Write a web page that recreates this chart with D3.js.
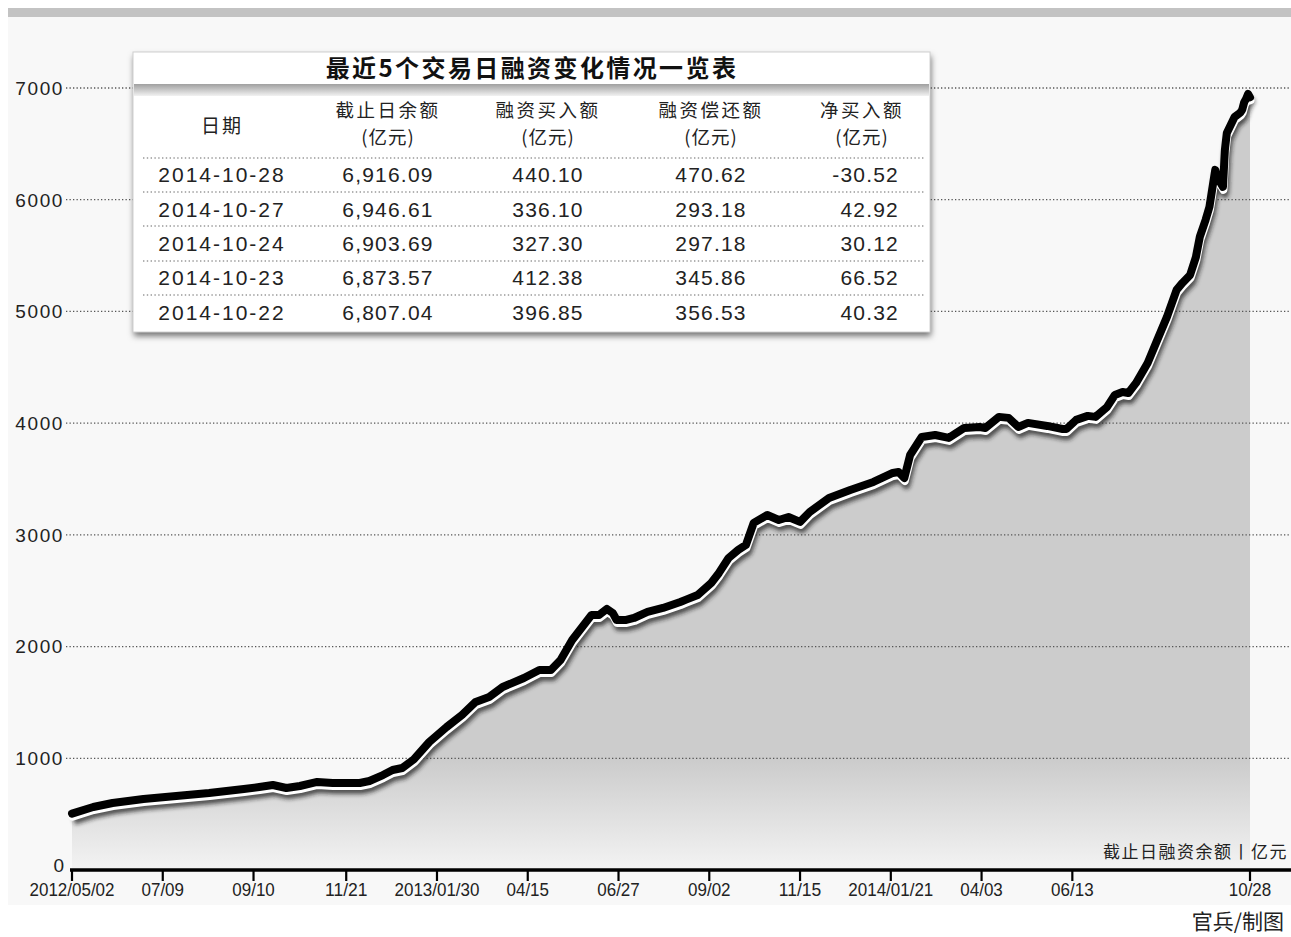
<!DOCTYPE html>
<html><head><meta charset="utf-8">
<script src="https://cdn.jsdelivr.net/npm/d3@7"></script>
<style>
html,body{margin:0;padding:0;background:#fff;}
svg{display:block;}
</style></head>
<body>
<script>
// ---- data ----
const dayIndex = [0,11,21,37,54,71,89,97,104,111,118,127,135,149,154,161,166,171,177,185,194,202,209,216,223,234,242,248,253,259,265,269,273,277,280,282,287,291,298,306,315,318,324,331,335,340,345,349,353,360,366,371,377,382,392,403,415,425,428,431,434,440,447,454,462,470,473,480,485,490,495,505,513,515,520,526,530,536,540,544,547,551,557,562,567,572,575,579,582,584,587,589,592,593,596,597,598,602,605,606,607,608,609,610];
const balance  = [505,564,600,636,662,689,725,743,761,734,752,788,779,779,797,850,895,913,990,1146,1280,1388,1504,1549,1638,1719,1790,1790,1880,2059,2193,2283,2283,2337,2301,2238,2238,2256,2310,2346,2399,2420,2462,2569,2659,2793,2865,2910,3107,3178,3133,3160,3116,3205,3330,3402,3474,3554,3563,3509,3715,3876,3894,3868,3957,3966,3957,4056,4047,3966,4002,3975,3948,3948,4029,4065,4056,4145,4252,4279,4270,4360,4539,4745,4951,5193,5255,5327,5488,5667,5819,5935,6267,6204,6115,6446,6598,6741,6780,6807.04,6873.57,6903.69,6946.61,6916.09];
const xTickIndex  = [0,47,94,142,189,236,283,330,377,424,471,518,610];
const xTickLabels = ["2012/05/02","07/09","09/10","11/21","2013/01/30","04/15","06/27","09/02","11/15","2014/01/21","04/03","06/13","10/28"];
const yTicks = [0,1000,2000,3000,4000,5000,6000,7000];

const tableTitle = "最近5个交易日融资变化情况一览表";
const tableHeads = [["日期"],["截止日余额","(亿元)"],["融资买入额","(亿元)"],["融资偿还额","(亿元)"],["净买入额","(亿元)"]];
const tableDates   = ["2014-10-28","2014-10-27","2014-10-24","2014-10-23","2014-10-22"];
const tableBalance = ["6,916.09","6,946.61","6,903.69","6,873.57","6,807.04"];
const tableBuy     = ["440.10","336.10","327.30","412.38","396.85"];
const tableRepay   = ["470.62","293.18","297.18","345.86","356.53"];
const tableNet     = ["-30.52","42.92","30.12","66.52","40.32"];

// ---- layout ----
const W = 1291, H = 937;
const NUM = "'Liberation Sans', Arial, Helvetica, sans-serif";
const CJK = "'Noto Sans CJK SC', 'Noto Sans', sans-serif";

const svg = d3.select("body").append("svg").attr("width", W).attr("height", H);
const defs = svg.append("defs");

const x = d3.scaleLinear().domain([0, 610]).range([72, 1250]);
const y = d3.scaleLinear().domain([0, 7000]).range([870, 88]);

const ag = defs.append("linearGradient").attr("id","areaGrad")
  .attr("gradientUnits","userSpaceOnUse").attr("x1",0).attr("x2",0).attr("y1",y(0)).attr("y2",y(7000));
ag.append("stop").attr("offset",0).attr("stop-color","#f3f3f3");
ag.append("stop").attr("offset",0.14).attr("stop-color","#cccccc");
ag.append("stop").attr("offset",1).attr("stop-color","#cccccc");

const bg = defs.append("linearGradient").attr("id","bandGrad").attr("x1",0).attr("x2",0).attr("y1",0).attr("y2",1);
bg.append("stop").attr("offset",0).attr("stop-color","#a0a0a0");
bg.append("stop").attr("offset",1).attr("stop-color","#f2f2f2");

const blur = defs.append("filter").attr("id","blur").attr("x","-5%").attr("y","-5%").attr("width","110%").attr("height","110%");
blur.append("feGaussianBlur").attr("stdDeviation",2);

const sh = defs.append("filter").attr("id","tshadow").attr("x","-5%").attr("y","-5%").attr("width","110%").attr("height","115%");
sh.append("feDropShadow").attr("dx",1).attr("dy",4).attr("stdDeviation",3).attr("flood-color","#000").attr("flood-opacity",0.55);

// panel background & top bar
svg.append("rect").attr("x",8).attr("y",17).attr("width",W-8).attr("height",888).attr("fill","#f8f8f8");
svg.append("rect").attr("x",8).attr("y",8).attr("width",W-8).attr("height",9).attr("fill","#c3c3c3");

const data = dayIndex.map((d,i)=>({i:d, v:balance[i]}));

// area
const area = d3.area().x(d=>x(d.i)).y0(y(0)).y1(d=>y(d.v));
svg.append("path").datum(data).attr("d",area).attr("fill","url(#areaGrad)");

// grid lines
const grid = svg.append("g");
yTicks.filter(t=>t>0).forEach(t=>{
  grid.append("line").attr("x1",66).attr("x2",W).attr("y1",y(t)).attr("y2",y(t))
    .attr("stroke","#555").attr("stroke-width",1.3).attr("stroke-dasharray","1.3,2.2");
});

// y labels
const yl = svg.append("g");
yTicks.forEach(t=>{
  yl.append("text").attr("x",64).attr("y",y(t)).attr("dy", t===0?"0.1em":"0.36em")
    .attr("text-anchor","end").attr("font-family",NUM).attr("font-size",19)
    .attr("letter-spacing", t===0?0:1.6).attr("fill","#222").text(t);
});

// line with halo & shadow
const line = d3.line().x(d=>x(d.i)).y(d=>y(d.v)).curve(d3.curveLinear);
svg.append("path").datum(data).attr("d",line).attr("fill","none")
  .attr("stroke","#222").attr("stroke-opacity",0.75).attr("stroke-width",8)
  .attr("stroke-linejoin","round").attr("transform","translate(2,7)").attr("filter","url(#blur)");
svg.append("path").datum(data).attr("d",line).attr("fill","none")
  .attr("stroke","#fff").attr("stroke-width",8).attr("stroke-linejoin","round").attr("stroke-linecap","round")
  .attr("transform","translate(0.5,3)");
svg.append("path").datum(data).attr("d",line).attr("fill","none")
  .attr("stroke","#000").attr("stroke-width",8).attr("stroke-linejoin","round").attr("stroke-linecap","round");

// x axis
svg.append("line").attr("x1",70).attr("x2",W).attr("y1",y(0)).attr("y2",y(0))
  .attr("stroke","#000").attr("stroke-width",3.5);
const xa = svg.append("g");
xTickIndex.forEach((t,i)=>{
  xa.append("line").attr("x1",x(t)).attr("x2",x(t)).attr("y1",y(0)).attr("y2",y(0)+11)
    .attr("stroke","#000").attr("stroke-width",2.2);
  const lab = xTickLabels[i];
  xa.append("text").attr("x",x(t)).attr("y",896).attr("text-anchor","middle")
    .attr("font-family",NUM).attr("font-size",19).attr("fill","#222")
    .attr("textLength", lab.length*8.5).attr("lengthAdjust","spacingAndGlyphs").text(lab);
});

// unit label
svg.append("text").attr("x",1288).attr("y",858).attr("text-anchor","end")
  .attr("font-family",CJK).attr("font-size",17).attr("letter-spacing",1.5).attr("fill","#222")
  .text("截止日融资余额丨亿元");
// credit
svg.append("text").attr("x",1284).attr("y",929).attr("text-anchor","end")
  .attr("font-family",CJK).attr("font-size",21).attr("fill","#222").text("官兵/制图");

// ---- table ----
const tb = svg.append("g");
tb.append("rect").attr("x",133).attr("y",52).attr("width",797).attr("height",280)
  .attr("fill","#fff").attr("filter","url(#tshadow)");
tb.append("rect").attr("x",133).attr("y",52).attr("width",797).attr("height",280)
  .attr("fill","#fff").attr("stroke","#d0d0d0").attr("stroke-width",1);
tb.append("rect").attr("x",134).attr("y",84).attr("width",795).attr("height",12).attr("fill","url(#bandGrad)");
tb.append("text").attr("x",532).attr("y",77).attr("text-anchor","middle")
  .attr("font-family",CJK).attr("font-weight","bold").attr("font-size",24).attr("letter-spacing",2.4)
  .attr("fill","#111").text(tableTitle);

const colX = [222,388,548,711,862];
tableHeads.forEach((h,i)=>{
  if(h.length===1){
    tb.append("text").attr("x",colX[i]).attr("y",133).attr("text-anchor","middle")
      .attr("font-family",CJK).attr("font-size",19).attr("letter-spacing",2).attr("fill","#222").text(h[0]);
  } else {
    tb.append("text").attr("x",colX[i]).attr("y",117).attr("text-anchor","middle")
      .attr("font-family",CJK).attr("font-size",18.5).attr("letter-spacing",2.5).attr("fill","#222").text(h[0]);
    tb.append("text").attr("x",colX[i]).attr("y",144).attr("text-anchor","middle")
      .attr("font-family",CJK).attr("font-size",18.5).attr("letter-spacing",1).attr("fill","#222").text(h[1]);
  }
});
const sepY = [158,192,226,261,295];
sepY.forEach(sy=>{
  tb.append("line").attr("x1",143).attr("x2",924).attr("y1",sy).attr("y2",sy)
    .attr("stroke","#666").attr("stroke-width",1.2).attr("stroke-dasharray","1.4,2.4");
});
const rowY = d3.scaleBand().domain(d3.range(tableDates.length)).range([158,330]);
tableDates.forEach((d,r)=>{
  const yy = rowY(r) + rowY.bandwidth()/2 + 7;
  const cols = [tableDates[r], tableBalance[r], tableBuy[r], tableRepay[r]];
  cols.forEach((c,i)=>{
    tb.append("text").attr("x",colX[i]).attr("y",yy).attr("text-anchor","middle")
      .attr("font-family",NUM).attr("font-size",21).attr("letter-spacing", i===0?2:1.2).attr("fill","#222").text(c);
  });
  tb.append("text").attr("x",899).attr("y",yy).attr("text-anchor","end")
    .attr("font-family",NUM).attr("font-size",21).attr("letter-spacing",1.2).attr("fill","#222").text(tableNet[r]);
});
</script>
</body></html>
